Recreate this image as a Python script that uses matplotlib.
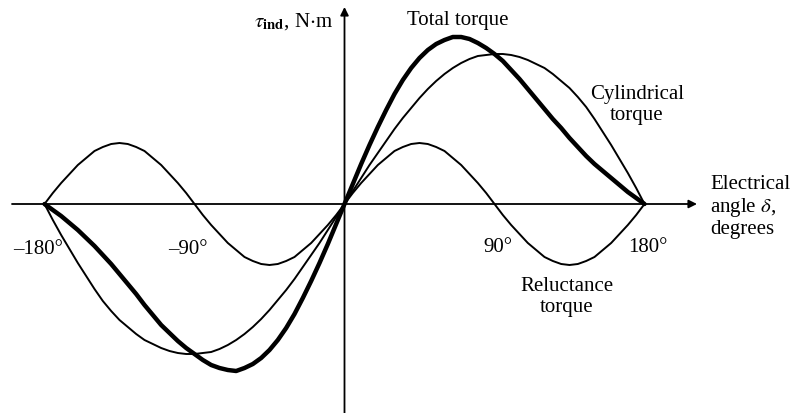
import numpy as np
import matplotlib
matplotlib.use('Agg')
import matplotlib.pyplot as plt

# police type Times pour coller au schéma du livre
plt.rcParams['font.family'] = 'Liberation Serif'
plt.rcParams['mathtext.fontset'] = 'stix'

# angle électrique en degrés (pas de 5°)
delta = np.arange(-180, 181, 5)

# couples (unités arbitraires)
cylindrical = [0, -16, -31, -45, -59, -72, -85, -97, -107, -116, -123, -130,
               -136, -140, -144, -147, -149, -150, -150, -149, -148, -145, -141, -136,
               -130, -123, -115, -106, -96, -86, -75, -63, -51, -39, -26, -13,
               0, 13, 26, 39, 51, 63, 75, 86, 96, 106, 115, 123,
               130, 136, 141, 145, 148, 149, 150, 150, 149, 147, 144, 140,
               136, 130, 123, 116, 107, 97, 85, 72, 59, 45, 31, 16, 0]
reluctance = [0, 11, 21, 30, 39, 46, 53, 57, 60, 61, 60, 57,
              53, 46, 39, 30, 21, 11, 0, -11, -21, -30, -39, -46,
              -53, -57, -60, -61, -60, -57, -53, -46, -39, -30, -21, -11,
              0, 11, 21, 30, 39, 46, 53, 57, 60, 61, 60, 57,
              53, 46, 39, 30, 21, 11, 0, -11, -21, -30, -39, -46,
              -53, -57, -60, -61, -60, -57, -53, -46, -39, -30, -21, -11, 0]
total = [0, -6, -12, -19, -26, -34, -42, -51, -60, -70, -80, -90,
         -101, -111, -121, -129, -137, -144, -150, -156, -161, -164, -166, -167,
         -164, -160, -154, -146, -136, -124, -110, -94, -77, -59, -40, -20,
         0, 20, 40, 59, 77, 94, 110, 124, 136, 146, 154, 160,
         164, 167, 167, 165, 161, 156, 150, 143, 134, 125, 115, 105,
         95, 85, 76, 66, 57, 48, 40, 33, 26, 19, 12, 6, 0]

tick_pos = [-180, -90, 90, 180]
tick_lab = ['–180°', '–90°', '90°', '180°']

fig = plt.figure(figsize=(7.97, 4.13), dpi=100)
ax = fig.add_axes([0, 0, 1, 1])
ax.set_xlim(-206.7, 271.5)
ax.set_ylim(-209, 204)
ax.axis('off')

# axes avec flèches
arrow = dict(arrowstyle='-|>', color='black', lw=1.3, mutation_scale=12,
             shrinkA=0, shrinkB=0)
ax.annotate('', xy=(211.5, 0), xytext=(-199.5, 0), arrowprops=arrow)
ax.annotate('', xy=(0, 197), xytext=(0, -209), arrowprops=arrow)

# courbes
ax.plot(delta, cylindrical, color='black', lw=1.4, solid_joinstyle='round')
ax.plot(delta, reluctance, color='black', lw=1.4, solid_joinstyle='round')
ax.plot(delta, total, color='black', lw=3.2, solid_capstyle='round',
        solid_joinstyle='round')

# graduations
for p, lab in zip(tick_pos, tick_lab):
    yy = -46 if p < 0 else -44
    ax.text(p - 4 if p < 0 else p + 2, yy, lab, ha='center', va='center', fontsize=15)

# textes
fs = 15
ax.text(-6.9, 182, r'$\tau_{\mathbf{ind}}$, N$\cdot$m', ha='right', va='center', fontsize=fs)
ax.text(68, 184, 'Total torque', ha='center', va='center', fontsize=fs)
ax.text(175.5, 99, 'Cylindrical\ntorque', ha='center', va='center', fontsize=fs,
        linespacing=1.1)
ax.text(219.3, -3, 'Electrical\nangle $\\delta$,\ndegrees', ha='left', va='center',
        fontsize=fs, linespacing=1.1)
ax.text(133.5, -93, 'Reluctance\ntorque', ha='center', va='center', fontsize=fs,
        linespacing=1.1)

plt.savefig('out.png', dpi=100)
